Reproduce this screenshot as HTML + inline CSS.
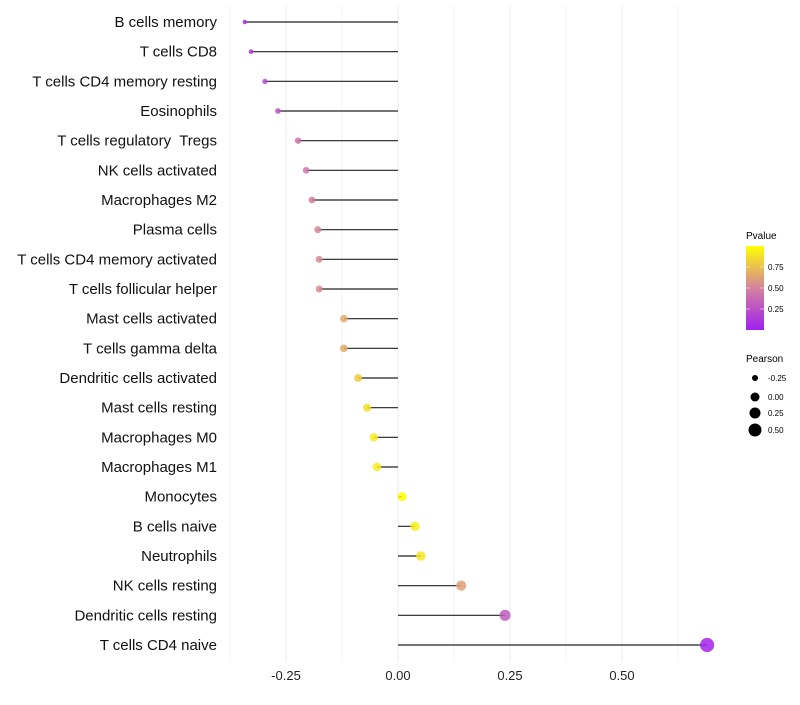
<!DOCTYPE html>
<html><head><meta charset="utf-8"><style>
body{margin:0;background:#fff;font-family:"Liberation Sans",sans-serif;}
svg text{font-family:"Liberation Sans",sans-serif;white-space:pre;}
</style></head><body>
<svg width="800" height="700">
<defs><linearGradient id="pg" x1="0" y1="1" x2="0" y2="0">
<stop offset="0" stop-color="#a020f0"/><stop offset="0.5" stop-color="#d4829e"/><stop offset="1" stop-color="#ffff00"/></linearGradient></defs>
<g id="grid"></g><g id="marks"></g><g id="labels"></g><g id="ticks"></g>
<g>
<text x="746" y="239" font-size="10">Pvalue</text>
<rect x="746" y="246" width="18" height="84" fill="url(#pg)"/>
<g stroke="#fff" stroke-opacity="0.5"><line x1="746" y1="267" x2="750" y2="267"/><line x1="760" y1="267" x2="764" y2="267"/><line x1="746" y1="288" x2="750" y2="288"/><line x1="760" y1="288" x2="764" y2="288"/><line x1="746" y1="309" x2="750" y2="309"/><line x1="760" y1="309" x2="764" y2="309"/></g>
<text x="768" y="270" font-size="8">0.75</text><text x="768" y="291" font-size="8">0.50</text><text x="768" y="312" font-size="8">0.25</text>
</g>
<g>
<text x="746" y="362" font-size="10">Pearson</text>
<circle cx="755" cy="378" r="3"/><text x="768" y="381" font-size="8">-0.25</text>
<circle cx="755" cy="397" r="4.5"/><text x="768" y="400" font-size="8">0.00</text>
<circle cx="755" cy="413" r="5.5"/><text x="768" y="416" font-size="8">0.25</text>
<circle cx="755" cy="430" r="6.5"/><text x="768" y="433" font-size="8">0.50</text>
</g>
</svg>
<script>
const cells=["B cells memory","T cells CD8","T cells CD4 memory resting","Eosinophils","T cells regulatory  Tregs","NK cells activated","Macrophages M2","Plasma cells","T cells CD4 memory activated","T cells follicular helper","Mast cells activated","T cells gamma delta","Dendritic cells activated","Mast cells resting","Macrophages M0","Macrophages M1","Monocytes","B cells naive","Neutrophils","NK cells resting","Dendritic cells resting","T cells CD4 naive"];
const pearson=[-0.342,-0.328,-0.297,-0.268,-0.223,-0.205,-0.192,-0.179,-0.176,-0.176,-0.121,-0.121,-0.089,-0.069,-0.054,-0.047,0.009,0.038,0.051,0.141,0.239,0.690];
const pvalue=[0.08,0.12,0.2,0.25,0.4,0.42,0.45,0.5,0.52,0.52,0.65,0.65,0.78,0.85,0.9,0.9,0.97,0.9,0.87,0.6,0.3,0.02];
const tickVals=[-0.25,0,0.25,0.5];
const tickLabels=["-0.25","0.00","0.25","0.50"];
const NS="http://www.w3.org/2000/svg";
const xs=v=>398+v*448;
const ys=i=>22+i*(623/21);
function mk(t,a,p){const e=document.createElementNS(NS,t);for(const k in a)e.setAttribute(k,a[k]);p.appendChild(e);return e;}
function lerp(a,b,t){return a.map((x,i)=>Math.round(x+(b[i]-x)*t));}
function pcol(p){const c0=[160,32,240],c1=[212,130,158],c2=[255,255,0];const t=Math.min(1,p/0.97);const c=t<0.5?lerp(c0,c1,t*2):lerp(c1,c2,(t-0.5)*2);return`rgb(${c.join(',')})`;}
const grid=document.getElementById('grid'),marks=document.getElementById('marks'),labels=document.getElementById('labels'),ticks=document.getElementById('ticks');
[-0.375,-0.25,-0.125,0,0.125,0.25,0.375,0.5,0.625].forEach(v=>{
const l=mk('line',{x1:xs(v),x2:xs(v),y1:5,y2:662,stroke:'#ebebeb','stroke-width':Number.isInteger(v*4)?1:0.6},grid);

});
tickVals.forEach((v,i)=>{const t=mk('text',{x:xs(v),y:680,'font-size':13,'text-anchor':'middle',fill:'#222'},ticks);t.textContent=tickLabels[i];

});
cells.forEach((c,i)=>{const y=ys(i);
const t=mk('text',{x:217,y:y+5,'font-size':15,'text-anchor':'end',fill:'#111'},labels);t.textContent=c;


const l=mk('line',{x1:xs(0),x2:xs(pearson[i]),y1:y,y2:y,stroke:'#222','stroke-width':1.2},marks);


const r=Math.sqrt(Math.max(3,20+44*pearson[i]));
const d=mk('circle',{cx:xs(pearson[i]),cy:y,r:r,fill:pcol(pvalue[i]),'fill-opacity':0.85},marks);

});
</script>
</body></html>
